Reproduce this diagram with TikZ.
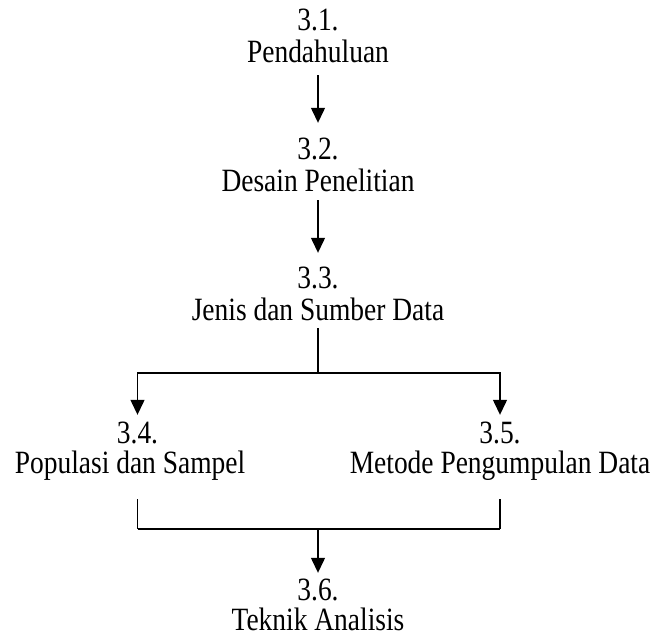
\documentclass[tikz,border=0pt]{standalone}
\usepackage{fontspec}
\usepackage{graphicx}
\setmainfont{Liberation Serif}
\usetikzlibrary{arrows.meta}

% narrow setting of the labels
\newcommand{\narrowtext}[1]{\scalebox{0.845}[1]{#1}}

\begin{document}
\begin{tikzpicture}[x=1pt, y=-1pt,
  lbl/.style={font=\fontsize{32.5}{38}\selectfont, inner sep=0pt, anchor=base,
              text height=23pt, text depth=7pt},
  link/.style={line width=1.3pt},
  arr/.style={link, -{Triangle[width=14pt,length=15pt]}}]
  \useasboundingbox (0,0) rectangle (653,636);

  % section numbers and titles
  \node[lbl] (n31) at (318,31)  {\narrowtext{3.1.}};
  \node[lbl] (t31) at (318,63)  {\narrowtext{Pendahuluan}};
  \node[lbl] (n32) at (318,160) {\narrowtext{3.2.}};
  \node[lbl] (t32) at (318,192) {\narrowtext{Desain Penelitian}};
  \node[lbl] (n33) at (318,288) {\narrowtext{3.3.}};
  \node[lbl] (t33) at (318,320) {\narrowtext{Jenis dan Sumber Data}};
  \node[lbl] (n34) at (137.5,443) {\narrowtext{3.4.}};
  \node[lbl] (t34) at (130,473) {\narrowtext{Populasi dan Sampel}};
  \node[lbl] (n35) at (500,443) {\narrowtext{3.5.}};
  \node[lbl] (t35) at (500,473) {\narrowtext{Metode Pengumpulan Data}};
  \node[lbl] (n36) at (318,600) {\narrowtext{3.6.}};
  \node[lbl] (t36) at (318,630) {\narrowtext{Teknik Analisis}};

  % branch and merge points
  \coordinate (split) at (318,373);
  \coordinate (join)  at (318,529);

  % straight steps
  \draw[arr, shorten <=5pt, shorten >=14pt] (t31) -- (n32);
  \draw[arr, shorten <=1pt, shorten >=12pt] (t32) -- (n33);

  % fork into 3.4 and 3.5
  \draw[link, shorten <=1pt] (t33.south) -- (split);
  \draw[arr, shorten >=5pt] (split) -| (n34.north);
  \draw[arr, shorten >=5pt] (split) -| (n35.north);

  % merge into 3.6
  \draw[link, shorten <=19pt] (t34.south -| n34) -- (n34 |- join);
  \draw[link, shorten <=19pt] (t35.south -| n35) -- (n35 |- join);
  \draw[link] (n34 |- join) -- (n35 |- join);
  \draw[arr, shorten >=4pt] (join) -- (n36);
\end{tikzpicture}
\end{document}
